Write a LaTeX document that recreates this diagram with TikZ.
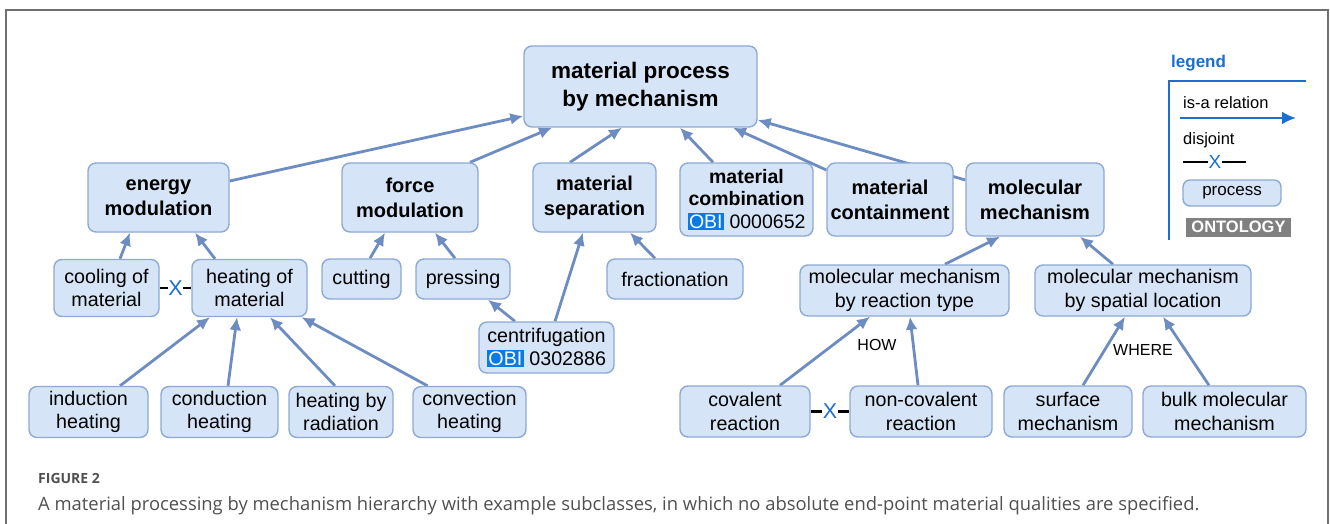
\documentclass[tikz,border=0pt]{standalone}
\usepackage{fontspec}
\setmainfont{Liberation Sans}
\newfontfamily\capfont{Open Sans}
\usetikzlibrary{arrows.meta}
\definecolor{boxfill}{RGB}{214,228,247}
\definecolor{boxline}{RGB}{140,170,212}
\definecolor{edgec}{RGB}{108,140,194}
\definecolor{legblue}{RGB}{26,111,208}
\definecolor{obiblue}{RGB}{10,122,230}
\definecolor{ontgray}{RGB}{128,128,128}
\definecolor{capgray}{RGB}{80,80,80}
\definecolor{framegray}{RGB}{112,112,112}
\newcommand\fsz[2]{\fontsize{#1}{#2}\selectfont}
\newcommand\obi{{\setlength\fboxsep{1.5pt}\colorbox{obiblue}{\color{white}OBI}}}
\pgfdeclarelayer{bg}
\pgfsetlayers{bg,main}
\tikzset{
  box/.style={draw=boxline, fill=boxfill, rounded corners=8pt, line width=1.4pt,
    align=center, inner sep=0pt, font=\fsz{19.7}{23.5}},
  bbox/.style={box, font=\fsz{20}{25}\bfseries},
  isa/.style={draw=edgec, line width=2.8pt, -{Latex[length=13pt,width=12pt]}},
  dj/.style={draw=black, line width=2.8pt},
  xmark/.style={text=legblue, font=\fsz{21.5}{24}, inner sep=0.5pt},
  lbl/.style={font=\fsz{16}{19}, inner sep=1pt}
}
\begin{document}
\begin{tikzpicture}[x=1pt,y=-1pt]
\useasboundingbox (0,0) rectangle (1330,524);
\draw[framegray, line width=2pt] (6,524) -- (6,10) -- (1328,10) -- (1328,524);

% nodes
\node[box, font=\fsz{22.5}{28}\bfseries, minimum width=233, minimum height=81] (root) at (640.5,86.5) {material process\\by mechanism};
\node[bbox, minimum width=141, minimum height=69] (energy) at (158.5,197.5) {energy\\modulation};
\node[bbox, minimum width=136, minimum height=69] (force) at (410,197.5) {force\\modulation};
\node[bbox, minimum width=123, minimum height=69] (sep) at (594.5,197.5) {material\\separation};
\node[box, font=\fsz{19.5}{22.5}, minimum width=133, minimum height=73] (comb) at (746.5,199.5) {\textbf{material}\\\textbf{combination}\\\obi\ 0000652};
\node[bbox, minimum width=126, minimum height=73] (cont) at (890,199.5) {material\\containment};
\node[bbox, minimum width=138, minimum height=73] (mol) at (1035,199.5) {molecular\\mechanism};

\node[box, minimum width=105, minimum height=57] (cool) at (106.5,288) {cooling of\\material};
\node[box, minimum width=115, minimum height=57] (heat) at (249.5,288) {heating of\\material};
\node[box, minimum width=79, minimum height=40] (cut) at (361.5,279) {cutting};
\node[box, minimum width=94, minimum height=40] (press) at (463,279) {pressing};
\node[box, minimum width=136, minimum height=40] (frac) at (675,279) {fractionation};
\node[box, minimum width=135, minimum height=51] (centr) at (546.5,347.5) {centrifugation\\\obi\ 0302886};
\node[box, minimum width=209, minimum height=51] (rtype) at (904.5,290.5) {molecular mechanism\\by reaction type};
\node[box, minimum width=216, minimum height=51] (spat) at (1143,290.5) {molecular mechanism\\by spatial location};

\node[box, minimum width=119, minimum height=51] (ind) at (88.5,412) {induction\\heating};
\node[box, minimum width=117, minimum height=51] (cond) at (219.5,412) {conduction\\heating};
\node[box, minimum width=104, minimum height=51] (rad) at (341,412) {heating by\\radiation};
\node[box, minimum width=113, minimum height=51] (conv) at (469.5,412) {convection\\heating};
\node[box, minimum width=130, minimum height=51] (cov) at (745,411.5) {covalent\\reaction};
\node[box, minimum width=142, minimum height=51] (ncov) at (921,411.5) {non-covalent\\reaction};
\node[box, minimum width=128, minimum height=51] (surf) at (1068,411.5) {surface\\mechanism};
\node[box, minimum width=163, minimum height=51] (bulk) at (1224.5,411.5) {bulk molecular\\mechanism};

% edges
\begin{pgfonlayer}{bg}
\draw[isa] ([yshift=16.5pt]energy.east) -- ([yshift=-29.5pt]root.west);
\draw[isa] ([xshift=60pt]force.north) -- ([xshift=-88.5pt]root.south);
\draw[isa] ([xshift=-24.5pt]sep.north) -- ([xshift=-18.5pt]root.south);
\draw[isa] ([xshift=-33.5pt]comb.north) -- ([xshift=39.5pt]root.south);
\draw[isa] ([yshift=29.5pt]cont.west) -- ([xshift=92.5pt]root.south);
\draw[isa] ([yshift=19.5pt]mol.west) -- ([yshift=-33.5pt]root.east);

\draw[isa] ([xshift=13.5pt]cool.north) -- ([xshift=-28.5pt]energy.south);
\draw[isa] ([xshift=-34.5pt]heat.north) -- ([xshift=36.5pt]energy.south);
\draw[isa] ([xshift=8.5pt]cut.north) -- ([xshift=-25pt]force.south);
\draw[isa] ([xshift=-8pt]press.north) -- ([xshift=25pt]force.south);
\draw[isa] ([xshift=-20pt]frac.north) -- ([xshift=35.5pt]sep.south);
\draw[isa] ([xshift=-31.5pt]centr.north) -- ([xshift=25pt]press.south);
\draw[isa] ([xshift=8.5pt]centr.north) -- ([xshift=-11.5pt]sep.south);

\draw[isa] ([xshift=31.5pt]ind.north) -- ([xshift=-39.5pt]heat.south);
\draw[isa] ([xshift=8.5pt]cond.north) -- ([xshift=-12.5pt]heat.south);
\draw[isa] ([xshift=-6pt]rad.north) -- ([xshift=20.5pt]heat.south);
\draw[isa] ([xshift=-42pt]conv.north) -- ([xshift=52pt]heat.south);

\draw[isa] ([xshift=40.5pt]rtype.north) -- ([xshift=-35pt]mol.south);
\draw[isa] ([xshift=-30pt]spat.north) -- ([xshift=45pt]mol.south);
\draw[isa] ([xshift=35pt]cov.north) -- ([xshift=-34.5pt]rtype.south);
\draw[isa] ([xshift=-3pt]ncov.north) -- ([xshift=5.5pt]rtype.south);
\draw[isa] ([xshift=15pt]surf.north) -- ([xshift=-18pt]spat.south);
\draw[isa] ([xshift=-15.5pt]bulk.north) -- ([xshift=20pt]spat.south);
\end{pgfonlayer}

\node[lbl] (how) at (877,345) {HOW};
\node[lbl] (where) at (1143,350) {WHERE};

% disjoint marks
\node[xmark] (x1) at (175.5,288) {X};
\draw[dj] (cool.east) -- (x1.west);
\draw[dj] (x1.east) -- (heat.west);
\node[xmark] (x2) at (830,411.5) {X};
\draw[dj] (cov.east) -- (x2.west);
\draw[dj] (x2.east) -- (ncov.west);

% legend
\node[text=legblue, font=\fsz{17}{20}\bfseries, anchor=west, inner sep=0pt] (leg) at (1171,63) {legend};
\coordinate (lc1) at (1169,240);
\coordinate (lc2) at (1169,81);
\coordinate (lc3) at (1306,81);
\draw[legblue, line width=1.5pt] (lc1) -- (lc2) -- (lc3);
\node[font=\fsz{16.5}{20}, anchor=west, inner sep=0pt] (isat) at (1183,103) {is-a relation};
\coordinate (la1) at (1180,118);
\coordinate (la2) at (1296,118);
\draw[legblue, line width=2.5pt, -{Latex[length=14pt,width=13pt]}] (la1) -- (la2);
\node[font=\fsz{16.5}{20}, anchor=west, inner sep=0pt] (djt) at (1183,140) {disjoint};
\node[xmark, font=\fsz{19}{22}] (lx) at (1215,162) {X};
\coordinate (ld1) at (1183,162);
\coordinate (ld2) at (1246,162);
\draw[dj, line width=2.5pt] (ld1) -- (lx.west);
\draw[dj, line width=2.5pt] (lx.east) -- (ld2);
\node[box, font=\fsz{17}{20}, minimum width=98, minimum height=26, rounded corners=7pt] (lproc) at (1232,193) {process};
\node[fill=ontgray, text=white, font=\fsz{16.5}{19}\bfseries, minimum width=105, minimum height=19, inner sep=0pt] (lont) at (1238.5,227) {ONTOLOGY};

% caption
\node[font=\capfont\fsz{14}{17}\bfseries, text=capgray, anchor=west, inner sep=0pt] (figl) at (38,478) {FIGURE 2};
\node[font=\capfont\fsz{18.4}{22}, text=capgray, anchor=west, inner sep=0pt] (cap) at (38,505.5) {A material processing by mechanism hierarchy with example subclasses, in which no absolute end-point material qualities are specified.};
\end{tikzpicture}
\end{document}
